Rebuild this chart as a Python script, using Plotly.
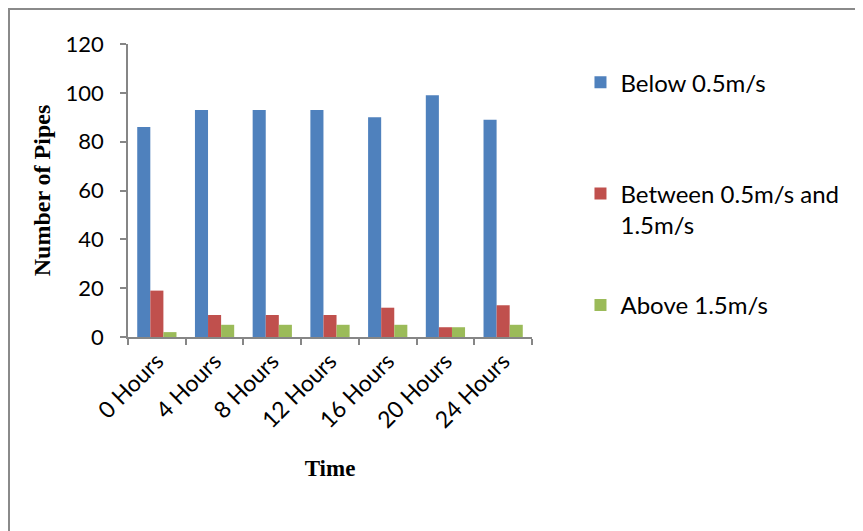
import plotly.graph_objects as go

categories = ["0 Hours", "4 Hours", "8 Hours", "12 Hours", "16 Hours", "20 Hours", "24 Hours"]
below_05 = [86, 93, 93, 93, 90, 99, 89]
between_05_15 = [19, 9, 9, 9, 12, 4, 13]
above_15 = [2, 5, 5, 5, 5, 4, 5]
series_names = ["Below 0.5m/s<br>&nbsp;", "Between 0.5m/s and<br>1.5m/s", "Above 1.5m/s<br>&nbsp;"]
colors = ["#4F81BD", "#C0504D", "#9BBB59"]

# figure is placed by the page at (8, 8)
W, H = 863, 531
ml, mr, mt, mb = 120, 339, 36, 202

SANS = "Lato, Open Sans, sans-serif"
SERIF = "Liberation Serif, Times New Roman, serif"

fig = go.Figure()
for i, (name, vals) in enumerate(zip(series_names, [below_05, between_05_15, above_15])):
    fig.add_trace(go.Bar(x=categories, y=vals, name=name, marker_color=colors[i],
                         marker_line_width=0, legendgroup=f"g{i}"))

pw = W - ml - mr
ph = H - mt - mb
fig.add_shape(type="rect", xref="paper", yref="paper",
              x0=-(ml - 1) / pw, x1=1 + (mr + 20) / pw,
              y0=-(mb + 20) / ph, y1=1 + (mt - 1) / ph,
              line=dict(color="#8A8A8A", width=2), fillcolor="rgba(0,0,0,0)")

fig.update_layout(
    width=W, height=H,
    margin=dict(l=ml, r=mr, t=mt, b=mb),
    paper_bgcolor="white", plot_bgcolor="white",
    barmode="group", bargap=0.32, bargroupgap=0,
    font=dict(family=SANS, size=22, color="black"),
    legend=dict(x=1.12, y=0.945, xanchor="left", yanchor="top",
                font=dict(size=24), tracegroupgap=46, valign="top",
                itemwidth=30, maxheight=480),
    xaxis=dict(showline=True, linecolor="#868686", linewidth=1.5,
               ticks="outside", tickson="boundaries", ticklen=6, tickcolor="#868686",
               tickwidth=1.5, tickangle=-45, tickfont=dict(size=23),
               title=dict(text="<b>Time</b>", font=dict(family=SERIF, size=23),
                          standoff=28)),
    yaxis=dict(range=[0, 120], dtick=20, showline=True, linecolor="#868686", linewidth=1.5,
               ticks="outside", ticklen=6, tickcolor="#868686", tickwidth=1.5,
               showgrid=False, zeroline=False, ticklabelstandoff=12,
               tickfont=dict(size=22),
               title=dict(text="<b>Number of Pipes</b>", font=dict(family=SERIF, size=24),
                          standoff=8)),
)

fig.write_html("out.html")
